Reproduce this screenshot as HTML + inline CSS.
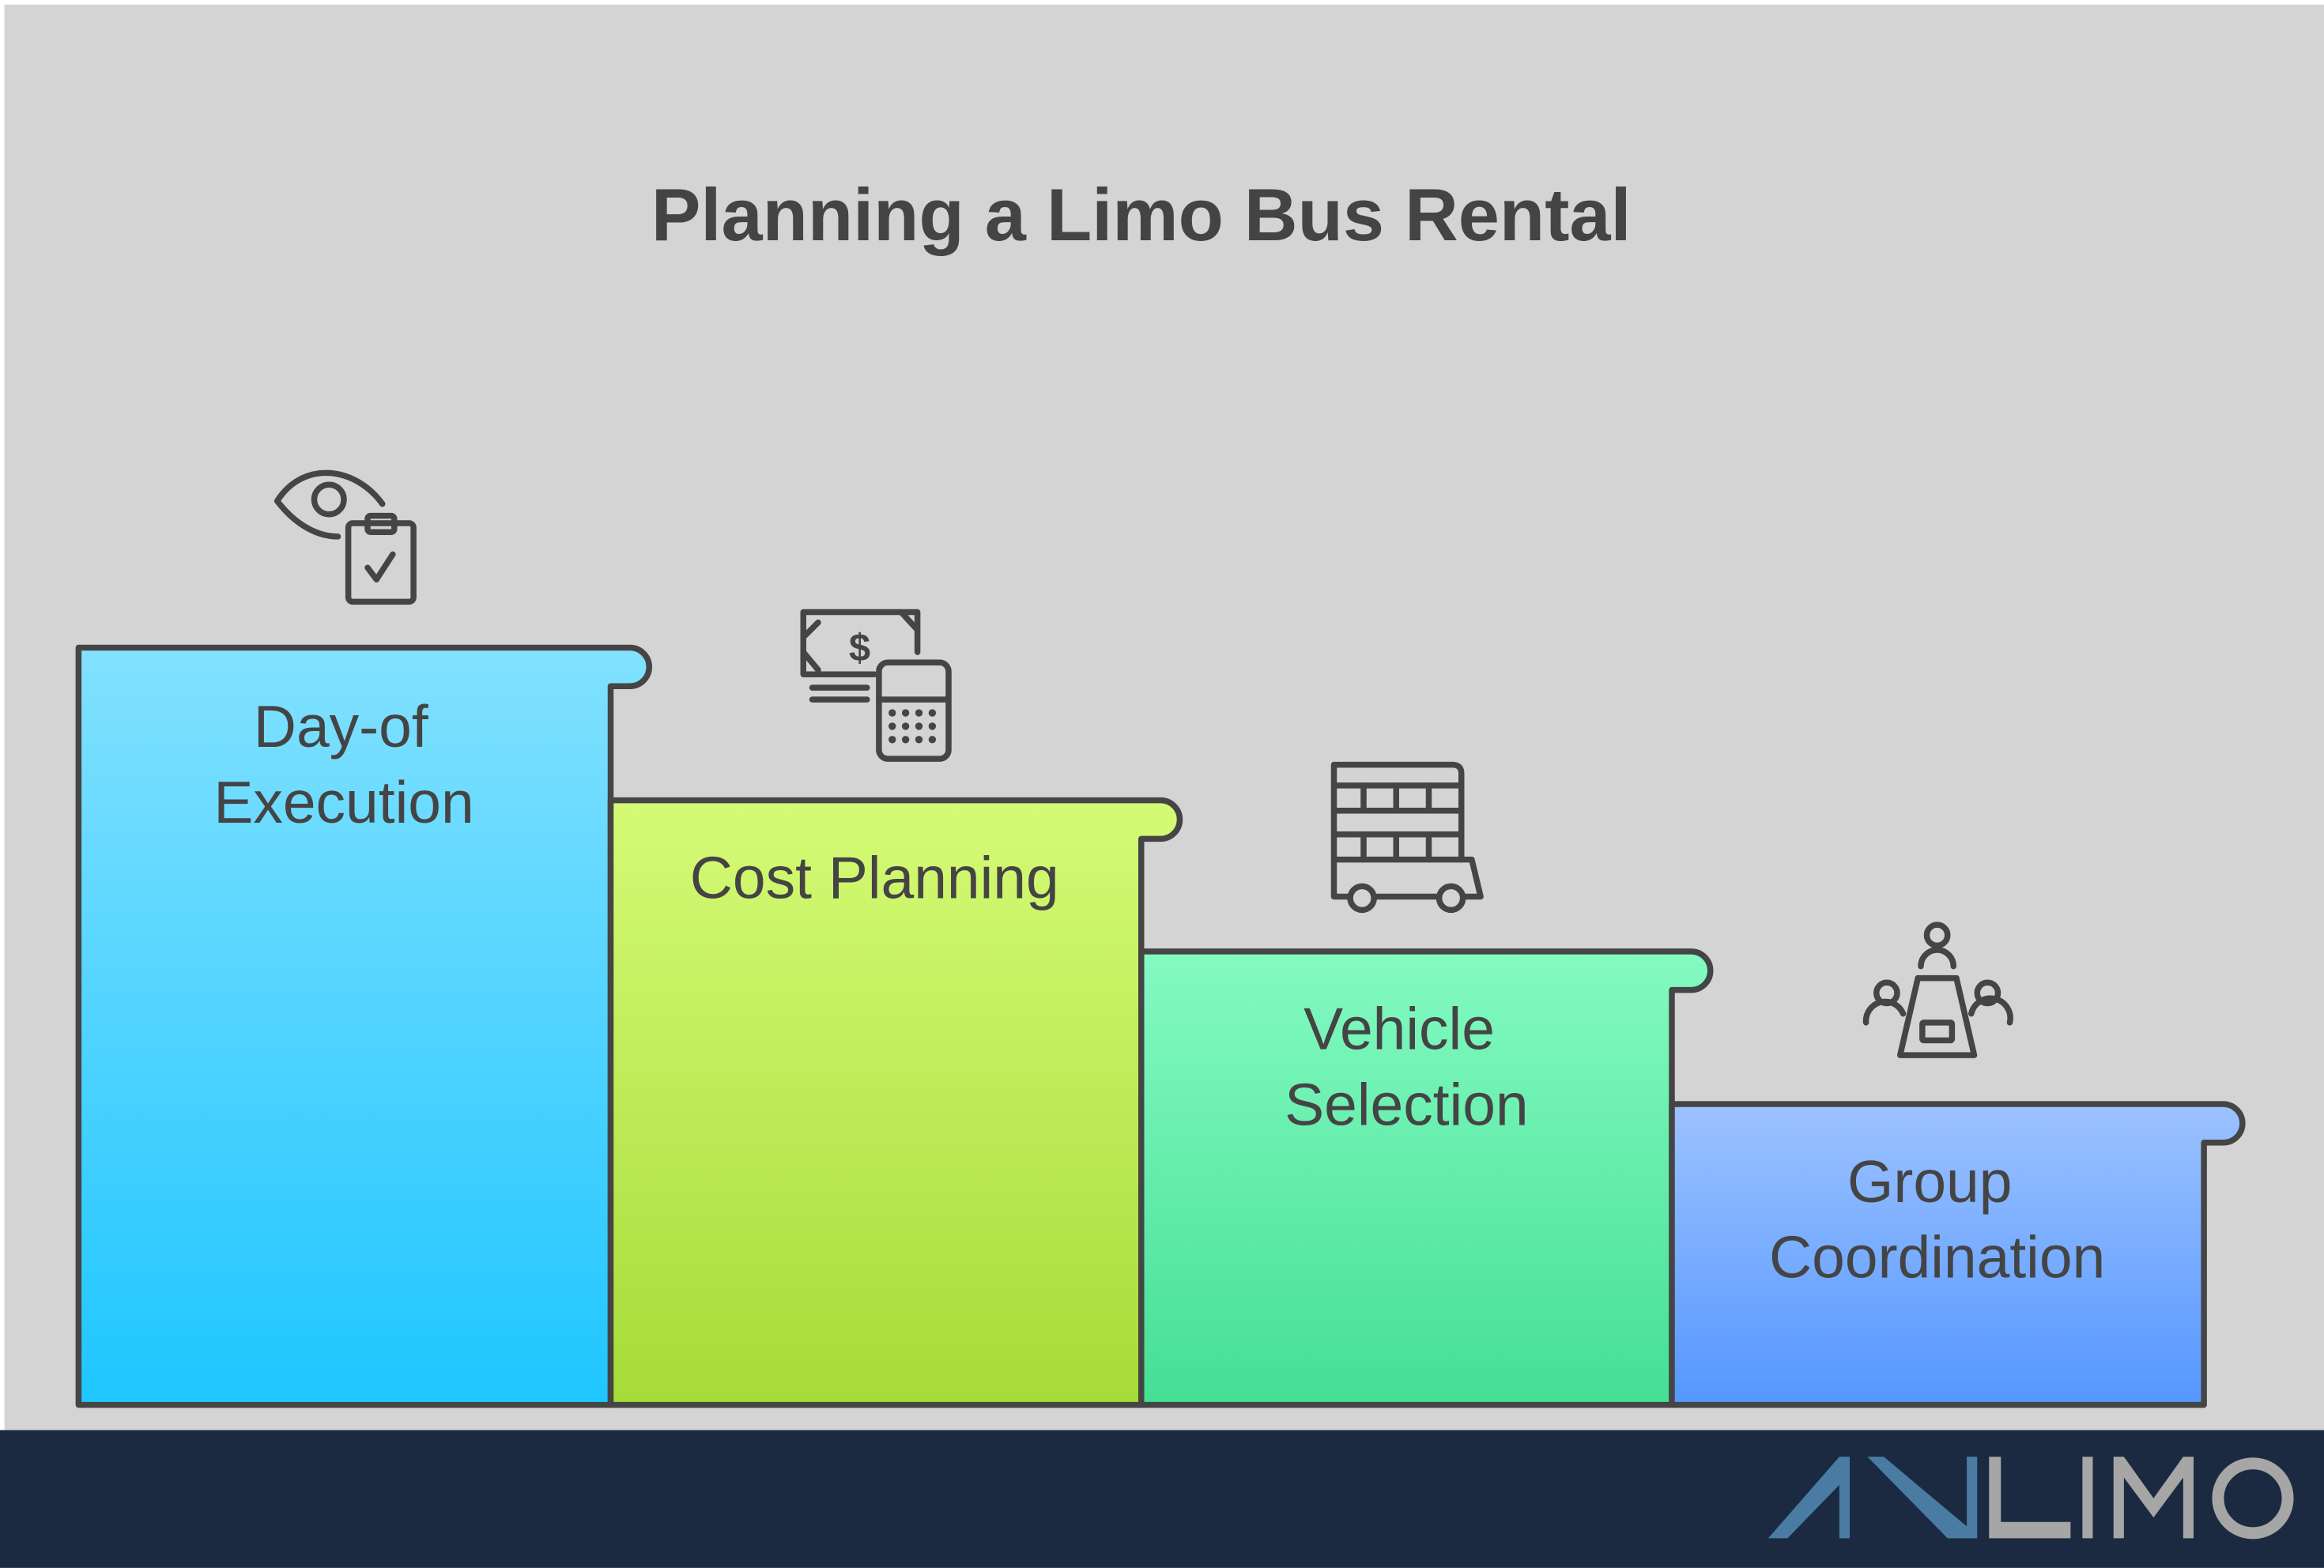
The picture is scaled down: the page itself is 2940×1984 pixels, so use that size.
<!DOCTYPE html>
<html><head><meta charset="utf-8"><style>
html,body{margin:0;padding:0;background:#fff}
svg{display:block}
text{font-family:"Liberation Sans",sans-serif}
</style></head><body>
<svg width="2940" height="1984" viewBox="0 0 1568 1058" xmlns="http://www.w3.org/2000/svg">
<defs>
<linearGradient id="g1" x1="0" y1="0" x2="0" y2="1"><stop offset="0" stop-color="#82e1ff"/><stop offset="1" stop-color="#1ec6ff"/></linearGradient>
<linearGradient id="g2" x1="0" y1="0" x2="0" y2="1"><stop offset="0" stop-color="#d5fb76"/><stop offset="1" stop-color="#a6db38"/></linearGradient>
<linearGradient id="g3" x1="0" y1="0" x2="0" y2="1"><stop offset="0" stop-color="#84fac2"/><stop offset="1" stop-color="#44df94"/></linearGradient>
<linearGradient id="g4" x1="0" y1="0" x2="0" y2="1"><stop offset="0" stop-color="#9cc2ff"/><stop offset="1" stop-color="#5597ff"/></linearGradient>
</defs>
<rect width="1568" height="1058" fill="#ffffff"/>
<rect x="3" y="3" width="1565" height="965" fill="#d4d4d4"/>
<rect x="0" y="965" width="1568" height="93" fill="#1b2a40"/>
<text x="770" y="162" text-anchor="middle" font-size="50" font-weight="bold" fill="#444">Planning a Limo Bus Rental</text>
<g stroke="#454545" stroke-width="4" stroke-linejoin="round">
<path d="M53,948 V437 H425 A13,13 0 0 1 425,463 H412 V948 Z" fill="url(#g1)"/>
<path d="M412,948 V540 H783 A13,13 0 0 1 783,566 H770 V948 Z" fill="url(#g2)"/>
<path d="M770,948 V642 H1141 A13,13 0 0 1 1141,668 H1128 V948 Z" fill="url(#g3)"/>
<path d="M1128,948 V745 H1500 A13,13 0 0 1 1500,771 H1487 V948 Z" fill="url(#g4)"/>
</g>
<g font-size="40" fill="#444" text-anchor="middle">
<text x="230" y="504">Day-of</text><text x="232" y="555">Execution</text>
<text x="590" y="606">Cost Planning</text>
<text x="944" y="708">Vehicle</text><text x="949" y="759">Selection</text>
<text x="1302" y="811">Group</text><text x="1307" y="862">Coordination</text>
</g>
<g fill="none" stroke="#454545" stroke-width="4" stroke-linecap="round" stroke-linejoin="round">
<path d="M258,340 C240,315 205,310 187,338 C200,355 215,362 228,362"/>
<circle cx="222" cy="337" r="10"/>
<rect x="235" y="353" width="44" height="53" rx="3"/>
<rect x="248" y="348" width="18" height="11" rx="2"/>
<path d="M248,383 L254,391 L265,374"/>
<path d="M590,455 H542 V413 H619 V440"/>
<path d="M542,430 L552,420 M542,440 L552,452 M608,413 L619,425"/>
<text x="580" y="446" font-size="26" font-weight="bold" fill="#454545" stroke="none" text-anchor="middle">$</text>
<path d="M548,464 H585 M548,472 H585"/>
<rect x="593" y="447" width="47" height="65" rx="6"/>
<path d="M593,472 H640"/>
<g fill="#454545" stroke="none">
<circle cx="602" cy="481" r="2.5"/><circle cx="611" cy="481" r="2.5"/><circle cx="620" cy="481" r="2.5"/><circle cx="629" cy="481" r="2.5"/>
<circle cx="602" cy="490" r="2.5"/><circle cx="611" cy="490" r="2.5"/><circle cx="620" cy="490" r="2.5"/><circle cx="629" cy="490" r="2.5"/>
<circle cx="602" cy="499" r="2.5"/><circle cx="611" cy="499" r="2.5"/><circle cx="620" cy="499" r="2.5"/><circle cx="629" cy="499" r="2.5"/>
</g>
<path d="M900,605 V516 H980 Q986,516 986,522 V580 H993 L999,605 Z"/>
<path d="M900,530 H986 M900,547 H986 M900,563 H986 M900,580 H986"/>
<path d="M920,530 V547 M942,530 V547 M964,530 V547 M920,563 V580 M942,563 V580 M964,563 V580"/>
<circle cx="919" cy="606" r="8" fill="#d4d4d4"/><circle cx="979" cy="606" r="8" fill="#d4d4d4"/>
<circle cx="1307" cy="631" r="7"/>
<path d="M1296,652 A11,11 0 0 1 1318,652"/>
<path d="M1294,660 H1320 L1332,712 H1282 Z"/>
<rect x="1297" y="690" width="20" height="12" rx="1"/>
<circle cx="1273" cy="670" r="7"/><path d="M1259,690 A13,13 0 0 1 1284,684"/>
<circle cx="1341" cy="670" r="7"/><path d="M1330,684 A13,13 0 0 1 1356,690"/>
</g>
<g>
<polygon points="1193,1038 1241,983 1248,983 1248,1038 1241,1038 1241,1002 1206,1038" fill="#4a7ca3"/>
<polygon points="1260,983 1271,983 1327,1030 1327,983 1334,983 1334,1038 1314,1038" fill="#4a7ca3"/>
<polygon points="1342,983 1350,983 1350,1027 1397,1027 1397,1038 1342,1038" fill="#a6a6a6"/>
<rect x="1405" y="983" width="7" height="55" fill="#a6a6a6"/>
<polygon points="1426,1038 1426,983 1433,983 1453,1011 1473,983 1480,983 1480,1038 1473,1038 1473,997 1453,1024 1433,997 1433,1038" fill="#a6a6a6"/>
<circle cx="1520" cy="1011" r="23.5" fill="none" stroke="#a6a6a6" stroke-width="8"/>
</g>
</svg>
</body></html>
